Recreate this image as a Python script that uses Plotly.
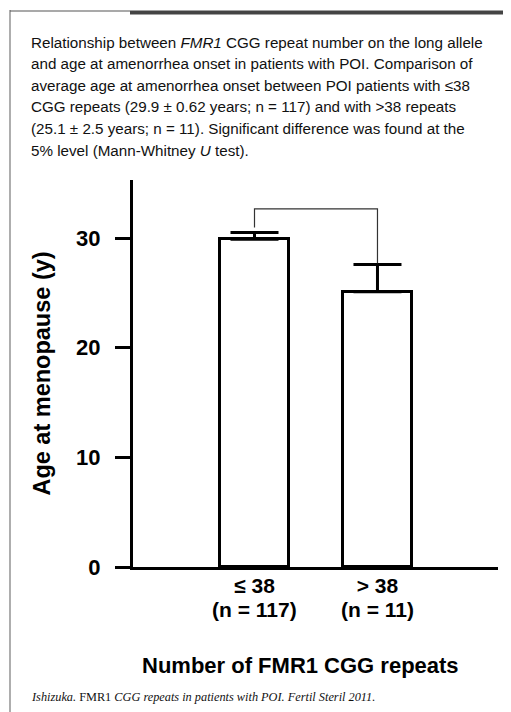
import plotly.graph_objects as go

# ---- data ----
cat_labels = ["≤ 38", "> 38"]
cat_n = [117, 11]
cat_pos = [0, 1]
mean_age = [29.9, 25.1]
err_age = [0.62, 2.5]
y_ticks = [0, 10, 20, 30]

caption_lines = [
    "Relationship between <i>FMR1</i> CGG repeat number on the long allele",
    "and age at amenorrhea onset in patients with POI. Comparison of",
    "average age at amenorrhea onset between POI patients with ≤38",
    "CGG repeats (29.9 ± 0.62 years; n = 117) and with >38 repeats",
    "(25.1 ± 2.5 years; n = 11). Significant difference was found at the",
    "5% level (Mann-Whitney <i>U</i> test).",
]
citation = ("<i>Ishizuka.</i> FMR1 <i>CGG repeats in patients with POI. "
            "Fertil Steril 2011.</i>")

# ---- layout geometry (page pixels; page body has an 8px margin) ----
OFF = 8
W, H = 511 - OFF, 712 - OFF
AX_L, AX_R, AX_T, AX_B = 133, 498, 180, 567   # plot area in page pixels
L, T = AX_L - OFF, AX_T - OFF
R, B = W - (AX_R - OFF), H - (AX_B - OFF)
PW, PH = AX_R - AX_L, AX_B - AX_T


def px(x):
    return (x - AX_L) / PW


def py(y):
    return (AX_B - y) / PH


SANS = "Liberation Sans, Arial, Helvetica, sans-serif"
SERIF = "Liberation Serif, Times New Roman, serif"

fig = go.Figure()
fig.add_trace(go.Bar(
    x=cat_pos, y=mean_age, width=0.56,
    marker=dict(color="white", line=dict(color="black", width=3)),
    error_y=dict(type="data", array=err_age, arrayminus=[0, 0],
                 symmetric=False, thickness=3, width=24, color="black"),
    showlegend=False,
))

# significance bracket, placed from the data tops
top0 = mean_age[0] + err_age[0] + 0.45
top1 = mean_age[1] + err_age[1] + 0.1
bar_top = max(top0, top1) + 1.7
fig.add_trace(go.Scatter(
    x=[cat_pos[0], cat_pos[0], cat_pos[1], cat_pos[1]],
    y=[top0, bar_top, bar_top, top1],
    mode="lines", line=dict(color="#333", width=1.2),
    showlegend=False, hoverinfo="skip",
))

fig.update_layout(
    width=W, height=H,
    margin=dict(l=L, r=R, t=T, b=B),
    paper_bgcolor="white", plot_bgcolor="white",
    font=dict(family=SANS, color="black"),
    bargap=0,
)
fig.update_xaxes(
    range=[-0.988, 1.98], tickvals=cat_pos, ticktext=cat_labels,
    showline=True, linewidth=3, linecolor="black", ticks="",
    showgrid=False, zeroline=False,
    tickfont=dict(size=21, weight="bold", family=SANS),
    ticklabelstandoff=-2,
)
fig.update_yaxes(
    range=[0, 35.3], tickvals=y_ticks,
    showline=True, linewidth=3, linecolor="black",
    ticks="outside", ticklen=15, tickwidth=3, tickcolor="black",
    showgrid=False, zeroline=False,
    tickfont=dict(size=22, weight="bold", family=SANS),
    ticklabelstandoff=10,
    title=dict(text="Age at menopause (y)",
               font=dict(size=23.5, weight="bold", family=SANS), standoff=19),
)

# second line of category labels (group sizes)
for xp, n in zip(cat_pos, cat_n):
    fig.add_annotation(
        x=xp, y=py(609.5), xref="x", yref="paper",
        xanchor="center", yanchor="middle", showarrow=False,
        text=f"(n = {n})", font=dict(size=21, weight="bold", family=SANS),
    )

# x axis title
fig.add_annotation(
    x=px(300), y=py(665), xref="paper", yref="paper",
    xanchor="center", yanchor="middle", showarrow=False,
    text="Number of FMR1 CGG repeats",
    font=dict(size=22, weight="bold", family=SANS),
)

# caption
for i, line in enumerate(caption_lines):
    fig.add_annotation(
        x=px(29), y=py(42 + i * 21.6), xref="paper", yref="paper",
        xanchor="left", yanchor="middle", showarrow=False,
        text=line, font=dict(size=15.2, family=SANS, color="#111"),
    )

fig.add_annotation(
    x=px(29), y=py(697), xref="paper", yref="paper",
    xanchor="left", yanchor="middle", showarrow=False,
    text=citation, font=dict(size=12.3, family=SERIF, color="#111"),
)

# frame
fig.add_shape(type="line", xref="paper", yref="paper",
              x0=px(10), x1=px(10), y0=py(10), y1=py(720),
              line=dict(color="#777", width=1.2))
fig.add_shape(type="line", xref="paper", yref="paper",
              x0=px(10), x1=px(130), y0=py(11), y1=py(11),
              line=dict(color="#555", width=1.2))
fig.add_shape(type="line", xref="paper", yref="paper",
              x0=px(130), x1=px(515), y0=py(12.5), y1=py(12.5),
              line=dict(color="#444", width=4))

fig.write_html("out.html")
